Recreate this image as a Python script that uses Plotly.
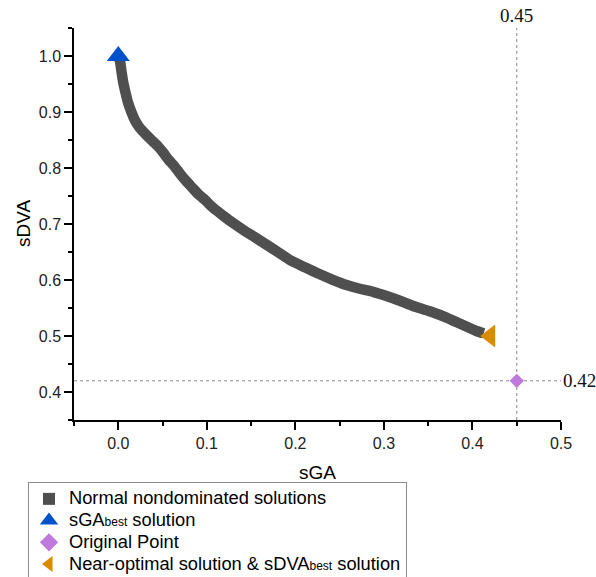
import plotly.graph_objects as go

# Pareto front of normal nondominated solutions (sGA, sDVA)
front_sga = [0.000, 0.0019, 0.0036, 0.0056, 0.0081, 0.0109, 0.0149, 0.0188, 0.0234, 0.0284,
             0.0366, 0.0448, 0.0505, 0.0564, 0.0634, 0.0702, 0.0764, 0.0832, 0.0905, 0.0979,
             0.1046, 0.1114, 0.1187, 0.1261, 0.1402, 0.1543, 0.1684, 0.1825, 0.1938, 0.2107,
             0.2277, 0.2423, 0.2578, 0.2728, 0.2878, 0.3021, 0.3180, 0.3330, 0.3518, 0.3707,
             0.3874, 0.4045, 0.4127]
front_sdva = [0.998, 0.9911, 0.9727, 0.9525, 0.9352, 0.9173, 0.8995, 0.8852, 0.8736, 0.8646,
              0.8513, 0.8388, 0.8280, 0.8155, 0.8032, 0.7888, 0.7771, 0.7655, 0.7530, 0.7429,
              0.7325, 0.7236, 0.7146, 0.7057, 0.6905, 0.6763, 0.6620, 0.6477, 0.6357, 0.6227,
              0.6102, 0.6004, 0.5911, 0.5843, 0.5789, 0.5718, 0.5629, 0.5536, 0.5441, 0.5329,
              0.5209, 0.5089, 0.5048]

# Special solutions
sga_best = (0.0, 1.0)
original_point = (0.45, 0.42)
near_optimal = (0.42, 0.50)

x_range = [-0.05, 0.5]
y_range = [0.35, 1.05]

sans = "Liberation Sans, Arial, sans-serif"
serif = "Liberation Serif, Times New Roman, serif"
band_color = "#4f4f4f"
blue = "#0052cc"
violet = "#bf78dc"
orange = "#d88c00"

W, H = 596, 577
M_L, M_R, M_T, M_B = 74, 35, 28, 157
plot_w = W - M_L - M_R
plot_h = H - M_T - M_B


def big(s):
    return f"<span style='font-size:18.3px'>{s}</span>"


def sub(s):
    return f"<span style='font-size:12px'>{s}</span>"


fig = go.Figure()

# dense nondominated solutions drawn as a thick band
fig.add_trace(go.Scatter(
    x=front_sga, y=front_sdva, mode="lines",
    line=dict(color=band_color, width=10.5, shape="spline", smoothing=0.6),
    showlegend=False, hoverinfo="skip"))
fig.add_trace(go.Scatter(
    x=[sga_best[0]], y=[sga_best[1]], mode="markers",
    marker=dict(symbol="triangle-up", size=20, color=blue), showlegend=False))
fig.add_trace(go.Scatter(
    x=[original_point[0]], y=[original_point[1]], mode="markers",
    marker=dict(symbol="diamond", size=11, color=violet), showlegend=False))
fig.add_trace(go.Scatter(
    x=[near_optimal[0]], y=[near_optimal[1]], mode="markers",
    marker=dict(symbol="triangle-left", size=20, color=orange), showlegend=False))

# legend keys
legend_keys = [
    ("square", 12, band_color, big("Normal nondominated solutions")),
    ("triangle-up", 16, blue, big("sGA" + sub("best") + " solution")),
    ("diamond", 14, violet, big("Original Point")),
    ("triangle-left", 14, orange, big("Near-optimal solution &amp; sDVA" + sub("best") + " solution")),
]
for sym, size, color, label in legend_keys:
    fig.add_trace(go.Scatter(
        x=[None], y=[None], mode="markers",
        marker=dict(symbol=sym, size=size, color=color), name=label))

# reference lines through the original point
fig.add_shape(type="line", xref="x", yref="y",
              x0=original_point[0], x1=original_point[0], y0=y_range[0], y1=y_range[1],
              line=dict(color="#8a8a8a", width=1, dash="dot"), layer="below")
fig.add_shape(type="line", xref="x", yref="y",
              x0=x_range[0], x1=x_range[1], y0=original_point[1], y1=original_point[1],
              line=dict(color="#8a8a8a", width=1, dash="dot"), layer="below")
fig.add_annotation(x=original_point[0], y=1, xref="x", yref="paper",
                   text=f"{original_point[0]:.2f}", showarrow=False,
                   xanchor="center", yanchor="bottom", yshift=0,
                   font=dict(family=serif, size=19, color="#111"))
fig.add_annotation(x=1, y=original_point[1], xref="paper", yref="y",
                   text=f"{original_point[1]:.2f}", showarrow=False,
                   xanchor="left", yanchor="middle", xshift=0,
                   font=dict(family=serif, size=19, color="#111"))

# axis titles
fig.add_annotation(x=0.5, y=-53 / plot_h, xref="paper", yref="paper",
                   text="sGA", showarrow=False, xanchor="center", yanchor="middle",
                   font=dict(family=sans, size=19, color="black"))
fig.add_annotation(x=-51 / plot_w, y=0.5, xref="paper", yref="paper",
                   text="sDVA", showarrow=False, textangle=-90,
                   xanchor="center", yanchor="middle",
                   font=dict(family=sans, size=19, color="black"))

axis_common = dict(
    showline=True, linecolor="black", linewidth=1.5,
    ticks="outside", ticklen=8, tickwidth=1.5, tickcolor="black",
    showgrid=False, zeroline=False,
    tickfont=dict(family=sans, size=16, color="#222"),
)

fig.update_xaxes(
    range=x_range, tick0=0, dtick=0.1, tickformat=".1f",
    minor=dict(dtick=0.05, ticks="outside", ticklen=4, tickwidth=1.5, tickcolor="black"),
    **axis_common)
fig.update_yaxes(
    range=y_range, tick0=0, dtick=0.1, tickformat=".1f",
    minor=dict(dtick=0.05, ticks="outside", ticklen=4, tickwidth=1.5, tickcolor="black"),
    **axis_common)

fig.update_layout(
    width=W, height=H,
    margin=dict(l=M_L, r=M_R, t=M_T, b=M_B, autoexpand=False),
    paper_bgcolor="white", plot_bgcolor="white",
    legend=dict(
        x=(28 - M_L) / plot_w, y=-(482 - (H - M_B)) / plot_h,
        xanchor="left", yanchor="top",
        bordercolor="#8c8c8c", borderwidth=1,
        font=dict(family=sans, size=14.4, color="black"),
        tracegroupgap=0, itemclick=False,
    ),
)

fig.write_html("out.html")
